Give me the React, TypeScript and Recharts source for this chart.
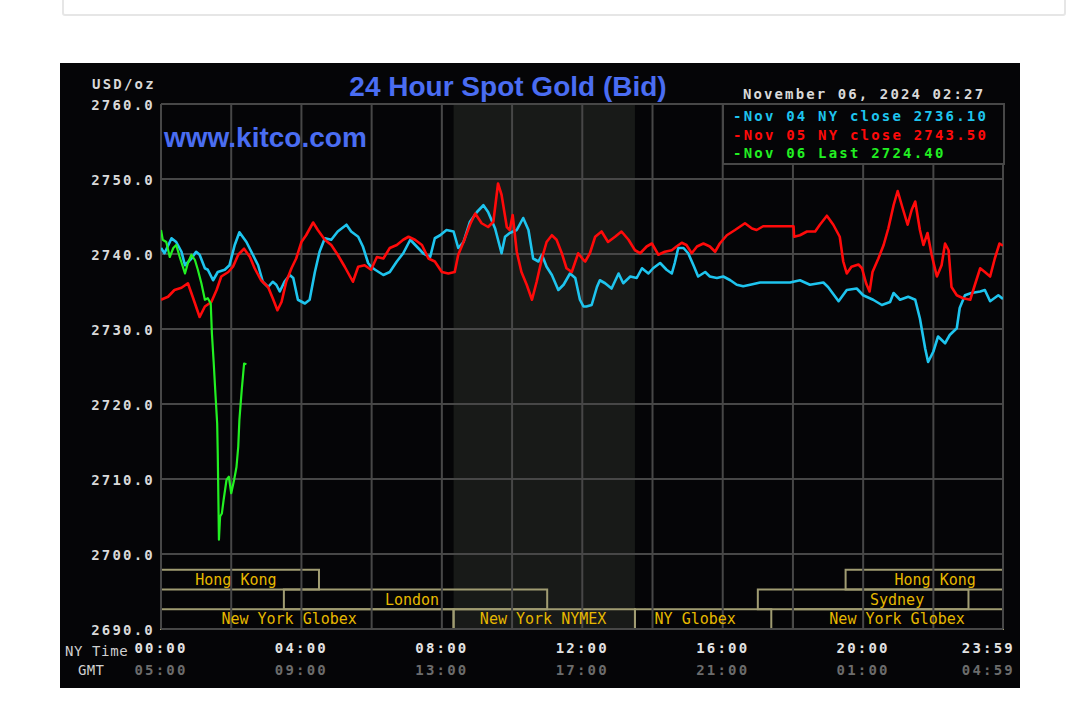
import React from 'react';
import { LineChart, Line, XAxis, YAxis, ReferenceLine, ReferenceArea, ReferenceDot } from 'recharts';

// ---------- DATA (time = minutes after 00:00 NY time, value = USD/oz) ----------
const nov04: [number, number][] = [
  [0, 2740.8], [6, 2740.1], [18, 2742.1], [26, 2741.6], [35, 2740.3], [41, 2738.5], [52, 2739.4], [60, 2740.3],
  [66, 2739.9], [75, 2738.1], [80, 2737.9], [89, 2736.5], [97, 2737.6], [109, 2737.9], [117, 2738.5], [126, 2741.2],
  [134, 2742.9], [146, 2741.6], [157, 2739.9], [166, 2738.5], [174, 2736.3], [183, 2735.6], [191, 2736.3], [197, 2735.9],
  [203, 2735.0], [211, 2736.3], [220, 2737.2], [226, 2736.8], [234, 2733.9], [246, 2733.4], [254, 2733.9], [263, 2737.6],
  [271, 2740.3], [280, 2742.1], [291, 2741.9], [302, 2743.0], [317, 2743.9], [325, 2743.0], [337, 2742.3], [345, 2741.0],
  [354, 2738.8], [359, 2738.3], [366, 2737.9], [380, 2737.2], [391, 2737.6], [403, 2739.0], [414, 2740.1], [426, 2741.9],
  [437, 2741.0], [448, 2740.1], [460, 2739.6], [468, 2742.1], [477, 2742.5], [488, 2743.2], [500, 2743.0], [508, 2740.8],
  [517, 2741.6], [528, 2744.3], [540, 2745.6], [551, 2746.5], [559, 2745.6], [571, 2743.4], [582, 2740.1], [588, 2742.3],
  [596, 2742.8], [608, 2743.2], [619, 2744.8], [628, 2743.2], [636, 2739.4], [645, 2739.0], [651, 2739.9], [659, 2738.3],
  [668, 2737.2], [679, 2735.2], [688, 2735.9], [699, 2737.4], [708, 2736.8], [716, 2733.9], [722, 2733.0], [727, 2733.0],
  [736, 2733.2], [745, 2735.6], [750, 2736.5], [759, 2736.1], [770, 2735.4], [782, 2737.4], [790, 2736.1], [802, 2737.0],
  [813, 2736.8], [822, 2738.1], [833, 2737.4], [841, 2738.1], [853, 2738.8], [864, 2737.9], [873, 2737.4], [878, 2738.8],
  [884, 2740.8], [893, 2740.8], [901, 2740.1], [910, 2738.5], [918, 2737.0], [930, 2737.6], [938, 2737.0], [950, 2736.8],
  [961, 2737.0], [973, 2736.5], [984, 2735.9], [995, 2735.7], [1007, 2735.9], [1024, 2736.2], [1075, 2736.2], [1092, 2736.5],
  [1109, 2735.9], [1132, 2736.2], [1140, 2735.6], [1158, 2733.7], [1172, 2735.2], [1189, 2735.4], [1200, 2734.5], [1217, 2733.9],
  [1232, 2733.2], [1246, 2733.6], [1252, 2734.8], [1263, 2733.9], [1277, 2734.3], [1289, 2733.9], [1297, 2731.4], [1306, 2727.4],
  [1311, 2725.6], [1320, 2727.0], [1328, 2729.0], [1340, 2728.1], [1348, 2729.2], [1360, 2730.1], [1365, 2732.8], [1374, 2734.5],
  [1385, 2734.8], [1400, 2735.0], [1408, 2735.2], [1417, 2733.7], [1431, 2734.5], [1439, 2734.0],
];

const nov05: [number, number][] = [
  [0, 2733.9], [12, 2734.3], [23, 2735.2], [35, 2735.5], [46, 2736.1], [55, 2734.1], [66, 2731.6], [75, 2733.0],
  [86, 2733.6], [95, 2735.2], [103, 2737.0], [115, 2737.6], [123, 2738.3], [132, 2739.9], [142, 2740.7], [152, 2739.6],
  [160, 2738.1], [171, 2736.5], [183, 2735.6], [191, 2734.1], [199, 2732.5], [206, 2733.6], [214, 2736.3], [223, 2738.1],
  [231, 2739.4], [240, 2741.6], [248, 2742.5], [260, 2744.2], [268, 2743.2], [280, 2741.9], [291, 2741.2], [302, 2739.9],
  [314, 2738.3], [328, 2736.3], [337, 2738.3], [348, 2738.5], [359, 2737.9], [369, 2739.6], [380, 2739.4], [391, 2740.8],
  [403, 2741.2], [414, 2741.9], [423, 2742.3], [434, 2741.9], [446, 2741.2], [457, 2739.4], [468, 2739.0], [480, 2737.6],
  [491, 2737.4], [502, 2737.6], [508, 2739.9], [517, 2741.6], [528, 2743.9], [537, 2745.4], [548, 2744.1], [559, 2743.6],
  [568, 2744.3], [576, 2749.4], [582, 2747.9], [591, 2743.6], [596, 2743.2], [601, 2745.2], [608, 2740.3], [616, 2737.6],
  [625, 2735.9], [634, 2733.9], [642, 2736.3], [651, 2739.4], [659, 2741.6], [668, 2742.5], [676, 2741.9], [685, 2740.1],
  [693, 2738.1], [702, 2737.6], [713, 2740.1], [722, 2739.2], [725, 2739.0], [733, 2740.1], [742, 2742.3], [753, 2743.0],
  [764, 2741.6], [776, 2742.3], [787, 2743.0], [799, 2741.9], [810, 2740.5], [819, 2740.1], [830, 2741.0], [839, 2741.4],
  [850, 2739.9], [861, 2740.3], [873, 2740.5], [881, 2741.0], [890, 2741.5], [898, 2741.2], [907, 2740.1], [916, 2741.0],
  [927, 2741.4], [938, 2741.0], [947, 2740.3], [955, 2741.4], [967, 2742.5], [981, 2743.2], [998, 2744.1], [1010, 2743.4],
  [1018, 2743.2], [1029, 2743.7], [1081, 2743.7], [1082, 2742.3], [1092, 2742.5], [1104, 2743.0], [1118, 2743.0], [1126, 2743.9],
  [1138, 2745.1], [1149, 2743.9], [1160, 2742.3], [1166, 2739.0], [1172, 2737.4], [1180, 2738.3], [1192, 2738.6], [1198, 2738.1],
  [1205, 2736.1], [1211, 2735.0], [1216, 2737.6], [1226, 2739.4], [1235, 2741.2], [1243, 2743.4], [1252, 2746.5], [1259, 2748.4],
  [1266, 2746.5], [1276, 2743.9], [1283, 2745.9], [1289, 2747.0], [1297, 2743.2], [1303, 2741.2], [1310, 2742.8], [1317, 2739.9],
  [1326, 2737.0], [1334, 2738.5], [1340, 2741.4], [1346, 2740.5], [1351, 2735.6], [1360, 2734.5], [1371, 2734.1], [1383, 2733.9],
  [1391, 2735.9], [1400, 2738.1], [1408, 2737.6], [1417, 2737.0], [1425, 2739.4], [1433, 2741.4], [1439, 2741.1],
];

const nov06: [number, number][] = [
  [0, 2743.2], [3, 2741.9], [9, 2741.6], [15, 2739.6], [21, 2740.8], [26, 2741.2], [32, 2739.6], [41, 2737.4],
  [46, 2738.8], [52, 2739.9], [58, 2739.2], [63, 2737.9], [69, 2736.1], [75, 2733.9], [80, 2734.1], [85, 2733.4],
  [87, 2729.4], [90, 2725.6], [93, 2721.4], [96, 2717.4], [97, 2713.4], [99, 2701.9], [101, 2705.0], [104, 2705.4],
  [107, 2707.2], [112, 2709.9], [116, 2710.3], [120, 2708.1], [125, 2709.9], [129, 2711.6], [132, 2714.3], [134, 2717.9],
  [138, 2721.9], [142, 2725.4], [146, 2725.3],
];

const priceTicks = [2690, 2700, 2710, 2720, 2730, 2740, 2750, 2760];
const timeTicks = [0, 240, 480, 720, 960, 1200, 1439];
const nyTimeLabels = ['00:00', '04:00', '08:00', '12:00', '16:00', '20:00', '23:59'];
const gmtLabels = ['05:00', '09:00', '13:00', '17:00', '21:00', '01:00', '04:59'];
const gridTimes = [0, 120, 240, 360, 480, 600, 720, 840, 960, 1080, 1200, 1320, 1439];
const nymexWindow = [500, 810];

const sessionNames = ['Hong Kong', 'London', 'New York Globex', 'New York NYMEX', 'NY Globex', 'New York Globex', 'Hong Kong', 'Sydney'];
const sessionStarts = [0, 210, 0, 500, 810, 1080, 1170, 1020];
const sessionEnds = [270, 660, 500, 810, 1043, 1439, 1439, 1380];
const sessionRows = [0, 1, 2, 2, 2, 2, 0, 1];
const sessionLabelAt = [128, 429, 219, 653, 913, 1258, 1323, 1258];

const legendNames = ['Nov 04 NY close', 'Nov 05 NY close', 'Nov 06 Last'];
const legendValues = ['2736.10', '2743.50', '2724.40'];
const titleText = '24 Hour Spot Gold (Bid)';
const siteText = 'www.kitco.com';
const dateText = 'November 06, 2024 02:27';

// ---------- STYLE ----------
const MONO = "'DejaVu Sans Mono', monospace";
const SANS = "'Liberation Sans', Arial, sans-serif";
const PANEL = '#050507';
const GRID = '#474747';
const SERIES_COLORS = ['#1ec4ee', '#ff0a0a', '#22f022'];
const SESSION_STROKE = '#a09c72';
const SESSION_TEXT = '#e6b800';

const CHART_W = 960;
const CHART_H = 625;
const MARGIN = { top: 41, right: 17, bottom: 29, left: 41 };
const Y_AXIS_W = 60;
const X_AXIS_H = 30;
const PLOT_LEFT = MARGIN.left + Y_AXIS_W;
const PLOT_BOTTOM = CHART_H - MARGIN.bottom - X_AXIS_H;
const ROW_H = 2.63; // session row height in price units

const toData = (arr: [number, number][]) => arr.map(([t, v]) => ({ t, v }));

const PriceTick = (props: any) => {
  const { y, payload } = props;
  return (
    <text x={PLOT_LEFT - 6} y={y + 6} textAnchor="end" fill="#d9d9d9" fontFamily={MONO}
      fontWeight="bold" fontSize={14} letterSpacing={2.2}>
      {Number(payload.value).toFixed(1)}
    </text>
  );
};

const TimeTick = (props: any) => {
  const { x, payload } = props;
  const i = timeTicks.indexOf(payload.value);
  const last = i === timeTicks.length - 1;
  const tx = last ? x + 12 : x;
  const anchor = last ? 'end' : 'middle';
  return (
    <g>
      <text x={tx} y={PLOT_BOTTOM + 24} textAnchor={anchor} fill="#e2e2e2" fontFamily={MONO}
        fontWeight="bold" fontSize={14} letterSpacing={2.2}>{nyTimeLabels[i]}</text>
      <text x={tx} y={PLOT_BOTTOM + 46} textAnchor={anchor} fill="#6c6c6c" fontFamily={MONO}
        fontWeight="bold" fontSize={14} letterSpacing={2.2}>{gmtLabels[i]}</text>
    </g>
  );
};

export default function App() {
  const series = [nov04, nov05, nov06].map(toData);
  return (
    <div style={{ position: 'fixed', left: 0, top: 0, width: 1080, height: 726, background: '#ffffff', overflow: 'hidden' }}>
      <div style={{ position: 'absolute', left: 62, top: -6, width: 1004, height: 22, border: '2px solid #e6e6e6', boxSizing: 'border-box', borderRadius: 3 }} />
      <div style={{ position: 'absolute', left: 60, top: 63, width: CHART_W, height: CHART_H, background: PANEL }}>
        <LineChart width={CHART_W} height={CHART_H} margin={MARGIN}>
          <XAxis type="number" dataKey="t" domain={[0, 1439]} ticks={timeTicks} interval={0}
            tick={<TimeTick />} axisLine={false} tickLine={false} height={X_AXIS_H} allowDataOverflow />
          <YAxis type="number" domain={[2690, 2760]} ticks={priceTicks} interval={0}
            tick={<PriceTick />} axisLine={false} tickLine={false} width={Y_AXIS_W} allowDataOverflow />
          <ReferenceArea x1={nymexWindow[0]} x2={nymexWindow[1]} y1={2690} y2={2760}
            fill="#181a18" fillOpacity={1} stroke="none" />
          {gridTimes.map((t) => (
            <ReferenceLine key={'gx' + t} x={t} stroke={GRID} strokeWidth={2} />
          ))}
          {priceTicks.map((p) => (
            <ReferenceLine key={'gy' + p} y={p} stroke={GRID} strokeWidth={2} />
          ))}
          {sessionNames.map((name, i) => (
            <ReferenceArea key={'s' + i} x1={sessionStarts[i]} x2={sessionEnds[i]}
              y1={2690 + (2 - sessionRows[i]) * ROW_H} y2={2690 + (3 - sessionRows[i]) * ROW_H}
              fill="none" fillOpacity={0} stroke={SESSION_STROKE} strokeWidth={2} />
          ))}
          {sessionNames.map((name, i) => (
            <ReferenceDot key={'sl' + i} x={sessionLabelAt[i]} y={2690 + (2.5 - sessionRows[i]) * ROW_H}
              r={0} fill="none" stroke="none"
              label={{ value: name, position: 'center', fill: SESSION_TEXT, fontSize: 15, fontFamily: MONO }} />
          ))}
          {series.map((d, i) => (
            <Line key={'l' + i} data={d} dataKey="v" type="linear" stroke={SERIES_COLORS[i]}
              strokeWidth={i === 2 ? 2.2 : 2.6} dot={false} isAnimationActive={false} strokeLinejoin="round" />
          ))}
        </LineChart>
      </div>
      <svg width={1080} height={726} style={{ position: 'absolute', left: 0, top: 0, pointerEvents: 'none' }}>
        <text x={508} y={96} textAnchor="middle" fill="#4a6df2" fontFamily={SANS} fontWeight="bold" fontSize={28}>{titleText}</text>
        <text x={164} y={147} fill="#4a6df2" fontFamily={SANS} fontWeight="bold" fontSize={28}>{siteText}</text>
        <text x={92} y={89} fill="#d9d9d9" fontFamily={MONO} fontWeight="bold" fontSize={14} letterSpacing={2.2}>USD/oz</text>
        <text x={743} y={99} fill="#d9d9d9" fontFamily={MONO} fontWeight="bold" fontSize={14} letterSpacing={2.1}>{dateText}</text>
        <rect x={723} y={104} width={281} height={60} fill={PANEL} stroke={GRID} strokeWidth={2} />
        {legendNames.map((n, i) => (
          <text key={'lg' + i} x={733} y={121 + i * 18.7} fill={SERIES_COLORS[i]} fontFamily={MONO}
            fontWeight="bold" fontSize={14} letterSpacing={2.2}>{'-' + n + ' ' + legendValues[i]}</text>
        ))}
        <text x={65} y={656} fill="#d0d0d0" fontFamily={MONO} fontSize={14} letterSpacing={0.6}>NY Time</text>
        <text x={78} y={675} fill="#d0d0d0" fontFamily={MONO} fontSize={14} letterSpacing={0.3}>GMT</text>
      </svg>
    </div>
  );
}
